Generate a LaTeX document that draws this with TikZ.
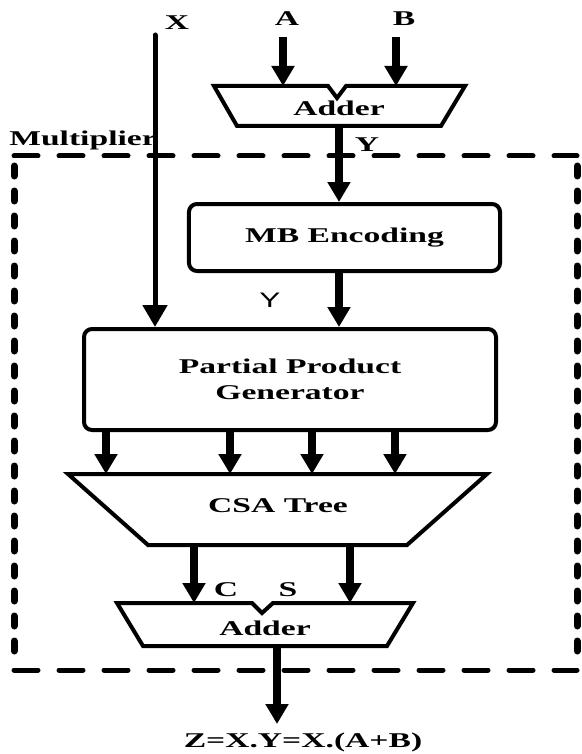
\documentclass[tikz,border=0pt]{standalone}
\usepackage{fontspec}
\setmainfont{Liberation Serif}
\newfontfamily\labelsans{Liberation Sans}
\usetikzlibrary{arrows.meta}

\begin{document}
\begin{tikzpicture}[x=1pt, y=-1pt,
  lbl/.style={font=\bfseries\fontsize{21}{26}\selectfont, xscale=1.6, inner sep=0pt},
  blk/.style={lbl, draw, line width=4pt, rounded corners=8pt, align=center},
  trap/.style={draw, line width=4pt},
  bus/.style={line width=8pt, -{Triangle[width=22pt,length=20pt]}},
  wire/.style={line width=5pt, line cap=round, -{Triangle[width=24pt,length=22pt]}},
  frame/.style={line width=5pt, line cap=round}]
\useasboundingbox (0,0) rectangle (581,754);

% multiplier frame
\draw[frame, dash pattern=on 24pt off 21pt] (14,156) -- (577,156);
\draw[frame, dash pattern=on 24pt off 21pt] (14,670) -- (577,670);
\draw[frame, line width=7pt, dash pattern=on 10pt off 15pt] (14,166) -- (14,664);
\draw[frame, line width=7pt, dash pattern=on 10pt off 15pt] (577,166) -- (577,664);
\node[lbl, anchor=west] (mul) at (9,140) {Multiplier};

% inputs and first adder
\node[lbl] (x) at (177,23) {X};
\node[lbl] (a) at (287,19) {A};
\node[lbl] (b) at (404,19) {B};
\draw[trap] (214,86) -- (328,86) -- (337,98) -- (346,86) -- (465,86)
  -- (441,126) -- (237,126) -- cycle;
\node[lbl] (add1) at (339,108) {Adder};
\coordinate (ain) at (283,37);
\coordinate (bin) at (396,37);
\coordinate (add1a) at (283,86);
\coordinate (add1b) at (396,86);
\coordinate (add1o) at (339,126);
\draw[bus] (ain) -- (add1a);
\draw[bus] (bin) -- (add1b);
\node[lbl] (y) at (367,145) {Y};

% MB encoding and partial products
\node[blk, minimum width=194.4pt, minimum height=67pt] (mb) at (344.5,237.5) {MB Encoding};
\node[blk, minimum width=257.5pt, minimum height=101pt] (ppg) at (290,379.5) {Partial Product\\Generator};
\node[font=\labelsans\fontsize{21}{26}\selectfont, xscale=1.5, inner sep=0pt] (ymb) at (270,300) {Y};
\draw[bus] (add1o) -- (add1o |- mb.north);
\draw[bus] (add1o |- mb.south) -- (add1o |- ppg.north);
\coordinate (xin) at (155,35);
\draw[wire] (xin) -- (xin |- ppg.north);

% CSA tree
\draw[trap] (68,474) -- (487,474) -- (407,545) -- (148,545) -- cycle;
\node[lbl] (csa) at (278,506) {CSA Tree};
\foreach \px [count=\i] in {106,230,312,395} {
  \coordinate (pp\i) at (\px,474);
  \draw[bus] (ppg.south -| pp\i) -- (pp\i);
}

% final adder
\coordinate (cout) at (194,545);
\coordinate (sout) at (350,545);
\coordinate (add2c) at (194,603);
\coordinate (add2s) at (350,603);
\draw[bus] (cout) -- (add2c);
\draw[bus] (sout) -- (add2s);
\node[lbl] (c) at (226,590) {C};
\node[lbl] (s) at (288,590) {S};
\draw[trap] (117,603) -- (252,603) -- (262,613) -- (273,603) -- (413,603)
  -- (387,646) -- (143,646) -- cycle;
\node[lbl] (add2) at (265,628) {Adder};
\coordinate (add2o) at (277,646);
\coordinate (zout) at (277,724);
\draw[bus] (add2o) -- (zout);
\node[lbl] (z) at (303,742) {Z=X.Y=X.(A+B)};
\end{tikzpicture}
\end{document}
